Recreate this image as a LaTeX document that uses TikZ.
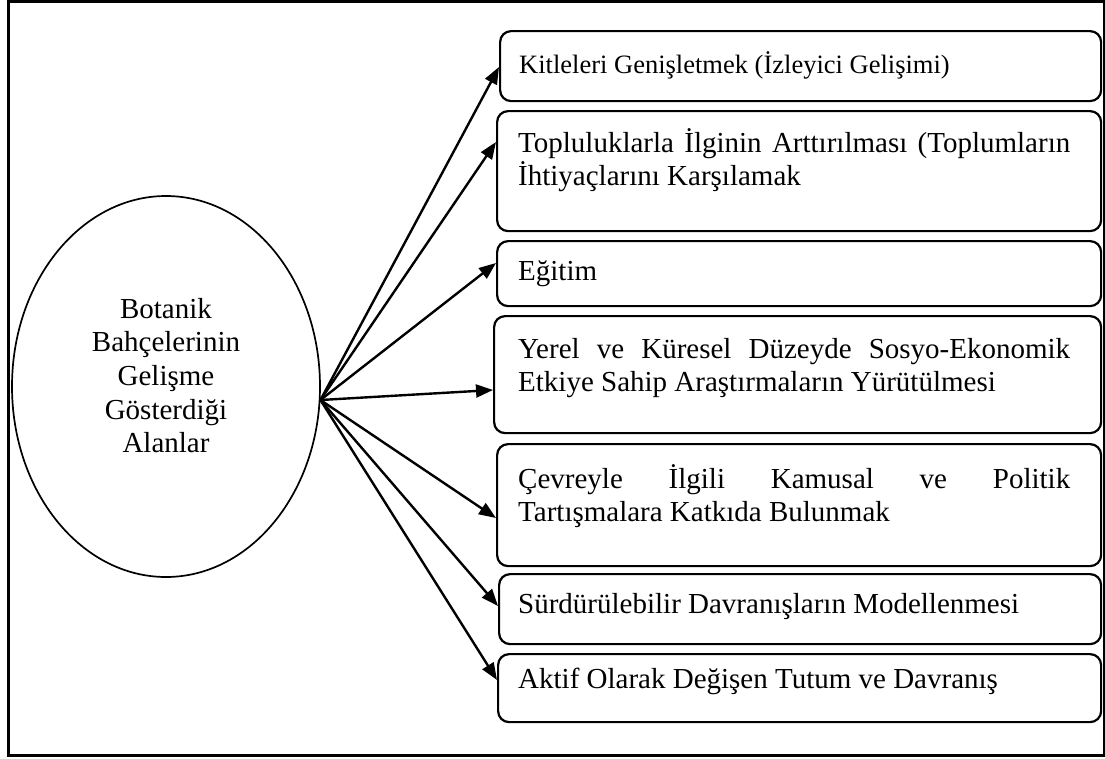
\documentclass[tikz,border=0pt]{standalone}
\usepackage{fontspec}
\setmainfont{Liberation Serif}
\usetikzlibrary{shapes.geometric,arrows.meta}
\newcommand\mybt[2][29]{\parbox[t]{552pt}{\fontsize{#1}{33.5}\selectfont\tolerance=10000\hyphenpenalty=10000\exhyphenpenalty=10000\spaceskip=\fontdimen2\font plus \fontdimen3\font\relax #2}}
\begin{document}
\begin{tikzpicture}[x=1pt,y=1pt,
  boxnode/.style={draw, line width=2.2pt, rounded corners=11pt, anchor=north west, inner sep=0pt, minimum width=#1},
  boxnode/.default=604pt,
  arr/.style={line width=2.4pt, -{Triangle[length=17pt,width=13pt]}},
  txt/.style={anchor=base west, inner sep=0pt},
]
\useasboundingbox (0,0) rectangle (1105,-758);
\draw[line width=2.7pt] (8.7,-1.3) rectangle (1104,-755.7);

\node[draw, ellipse, line width=1.7pt, inner sep=0pt, minimum width=308pt, minimum height=381pt] (e) at (166,-386.5) {};
\node[anchor=base, inner sep=0pt] (et) at (166,-318) {\parbox[t]{250pt}{\centering\fontsize{29}{33.7}\selectfont Botanik\\ Bahçelerinin\\ Gelişme\\ Gösterdiği\\ Alanlar}};

\node[boxnode=601pt, minimum height=70pt] (b1) at (499,-30) {};
\node[boxnode=604pt, minimum height=120pt] (b2) at (496,-110) {};
\node[boxnode=604pt, minimum height=65pt] (b3) at (496,-240) {};
\node[boxnode=607pt, minimum height=117pt] (b4) at (493,-315) {};
\node[boxnode=604pt, minimum height=122pt] (b5) at (496,-443) {};
\node[boxnode=602pt, minimum height=70pt] (b6) at (498,-573) {};
\node[boxnode=603pt, minimum height=68pt] (b7) at (497,-653) {};

\node[txt] (t1) at (519,-73) {\mybt[26.5]{Kitleleri Genişletmek (İzleyici Gelişimi)}};
\node[txt] (t2) at (518,-152) {\mybt{Topluluklarla İlginin Arttırılması (Toplumların İhtiyaçlarını Karşılamak}};
\node[txt] (t3) at (518,-280) {\mybt{Eğitim}};
\node[txt] (t4) at (518,-358) {\mybt{Yerel ve Küresel Düzeyde Sosyo-Ekonomik Etkiye Sahip Araştırmaların Yürütülmesi}};
\node[txt] (t5) at (518,-488) {\mybt{Çevreyle İlgili Kamusal ve Politik\linebreak Tartışmalara Katkıda Bulunmak}};
\node[txt] (t6) at (518,-613) {\mybt{Sürdürülebilir Davranışların Modellenmesi}};
\node[txt] (t7) at (518,-688) {\mybt{Aktif Olarak Değişen Tutum ve Davranış}};

\coordinate (o) at (e.-5.8);
\draw[arr] (o) -- ([yshift=-37pt]b1.north west);
\draw[arr] (o) -- ([yshift=-32pt]b2.north west);
\draw[arr] (o) -- ([yshift=-23pt]b3.north west);
\draw[arr] (o) -- ([yshift=-75pt]b4.north west);
\draw[arr] (o) -- ([yshift=-75pt]b5.north west);
\draw[arr] (o) -- ([yshift=-33pt]b6.north west);
\draw[arr] (o) -- ([yshift=-27pt]b7.north west);
\end{tikzpicture}
\end{document}
